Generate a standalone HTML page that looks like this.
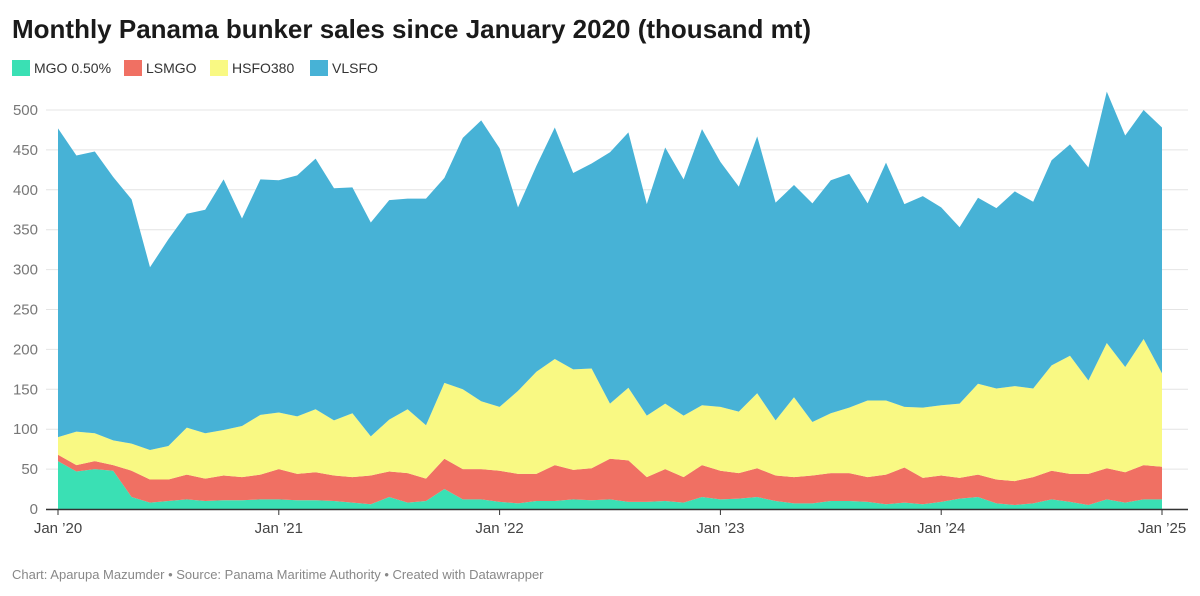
<!DOCTYPE html>
<html><head><meta charset="utf-8"><style>
body{margin:0;background:#fff;font-family:"Liberation Sans",sans-serif;}
#wrap{position:relative;width:1200px;height:596px;overflow:hidden}
</style></head><body>
<div id="wrap">
<svg id="chart" width="1200" height="596">
<text x="12" y="38" font-size="26" font-weight="bold" fill="#1a1a1a">Monthly Panama bunker sales since January 2020 (thousand mt)</text>
<g>
<rect x="12" y="60" width="18" height="16" fill="#3ae0b4"/>
<text x="34" y="73" font-size="14" fill="#333">MGO 0.50%</text>
<rect x="124" y="60" width="18" height="16" fill="#f07063"/>
<text x="146" y="73" font-size="14" fill="#333">LSMGO</text>
<rect x="210" y="60" width="18" height="16" fill="#f9f983"/>
<text x="232" y="73" font-size="14" fill="#333">HSFO380</text>
<rect x="310" y="60" width="18" height="16" fill="#47b2d6"/>
<text x="332" y="73" font-size="14" fill="#333">VLSFO</text>
</g>
<g id="grid"></g><g id="areas"></g><g id="axis"></g>
<text x="12" y="579" font-size="13" fill="#888">Chart: Aparupa Mazumder • Source: Panama Maritime Authority • Created with Datawrapper</text>
</svg>
</div>
<script>
const yTicks=[0,50,100,150,200,250,300,350,400,450,500];
const xTickLabels=["Jan ’20","Jan ’21","Jan ’22","Jan ’23","Jan ’24","Jan ’25"];
const mgo=[60,47,50,48,15,8,10,12,10,11,11,12, 12,11,11,10,8,6,15,8,10,25,12,12, 9,7,10,10,12,11,12,9,9,10,8,15, 12,13,15,10,7,7,10,10,9,6,8,6, 9,13,15,7,5,7,12,9,5,12,8,12, 12];
const lsmgo=[8,8,10,7,33,29,27,31,28,31,29,31, 38,33,35,32,32,36,32,37,28,38,38,38, 39,37,34,45,37,40,51,52,31,40,32,40, 36,32,36,32,33,35,35,35,31,37,44,33, 33,26,28,30,30,33,36,35,39,39,38,43, 41];
const hsfo380=[22,42,35,31,34,37,42,59,57,57,64,75, 71,72,79,69,80,49,65,80,67,95,100,85, 80,104,128,133,126,125,69,91,77,82,77,75, 80,77,94,69,100,67,75,82,96,93,76,88, 88,93,114,114,119,111,132,148,117,157,132,158, 117];
const vlsfo=[387,346,353,330,306,229,259,268,280,314,260,295, 291,302,314,291,283,268,275,264,284,257,315,352, 324,230,258,290,246,257,315,320,265,321,296,346, 307,282,322,273,266,274,292,293,247,298,254,265, 248,221,233,226,244,234,257,265,267,315,290,287, 308];

const NS="http://www.w3.org/2000/svg";
const X0=58,X1=1162,Y0=509,Y500=110;
const xs=i=>X0+(X1-X0)*i/(mgo.length-1);
const ys=v=>Y0-(Y0-Y500)*v/500;
const grid=document.getElementById('grid');
yTicks.forEach(t=>{
  const l=document.createElementNS(NS,'line');
  l.setAttribute('x1',46);l.setAttribute('x2',1188);
  l.setAttribute('y1',ys(t));l.setAttribute('y2',ys(t));
  l.setAttribute('stroke','#e4e4e4');
  
  
  grid.appendChild(l);
  const tx=document.createElementNS(NS,'text');
  tx.setAttribute('x',38);tx.setAttribute('y',ys(t)+5);
  tx.setAttribute('text-anchor','end');
  tx.setAttribute('font-size','15');tx.setAttribute('fill','#777');
  tx.textContent=t;
  
  
  grid.appendChild(tx);
});
const series=[[mgo,'#3ae0b4','mgo'],[lsmgo,'#f07063','lsmgo'],[hsfo380,'#f9f983','hsfo380'],[vlsfo,'#47b2d6','vlsfo']];
const base=mgo.map(()=>0);
const areas=document.getElementById('areas');
series.forEach(([arr,col,name])=>{
  const top=arr.map((v,i)=>base[i]+v);
  let d='M'+top.map((v,i)=>xs(i)+','+ys(v)).join(' L');
  for(let i=arr.length-1;i>=0;i--) d+=' L'+xs(i)+','+ys(base[i]);
  d+=' Z';
  const p=document.createElementNS(NS,'path');
  p.setAttribute('d',d);p.setAttribute('fill',col);
  
  
  areas.appendChild(p);
  top.forEach((v,i)=>base[i]=v);
});
const axis=document.getElementById('axis');
const bl=document.createElementNS(NS,'line');
bl.setAttribute('x1',46);bl.setAttribute('x2',1188);bl.setAttribute('y1',Y0+0.5);bl.setAttribute('y2',Y0+0.5);
bl.setAttribute('stroke','#333');bl.setAttribute('stroke-width','1.5');


axis.appendChild(bl);
xTickLabels.forEach((lab,k)=>{
  const x=xs(k*12);
  const t=document.createElementNS(NS,'line');
  t.setAttribute('x1',x);t.setAttribute('x2',x);t.setAttribute('y1',Y0);t.setAttribute('y2',Y0+6);
  t.setAttribute('stroke','#333');
  
  
  axis.appendChild(t);
  const tx=document.createElementNS(NS,'text');
  tx.setAttribute('x',x);tx.setAttribute('y',Y0+24);tx.setAttribute('text-anchor','middle');
  tx.setAttribute('font-size','15');tx.setAttribute('fill','#444');
  tx.textContent=lab;
  
  
  axis.appendChild(tx);
});
</script>
</body></html>
